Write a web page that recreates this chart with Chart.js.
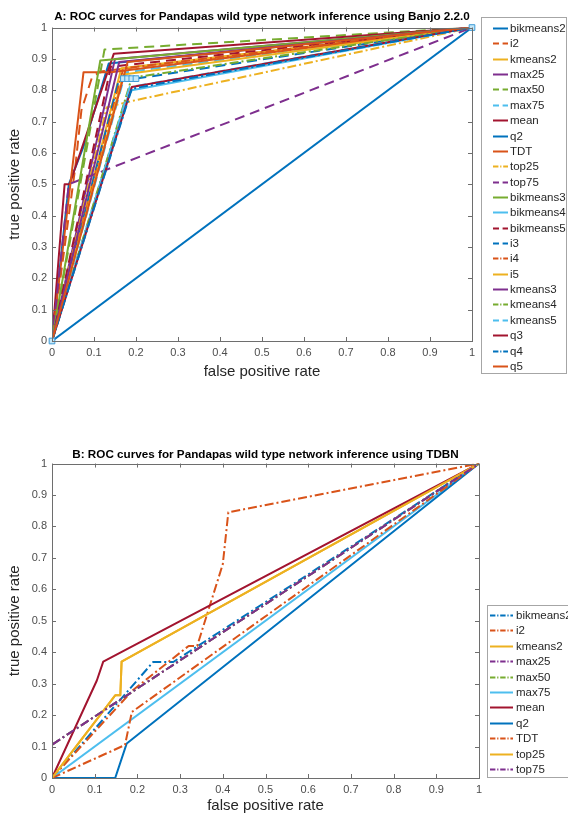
<!DOCTYPE html>
<html>
<head>
<meta charset="utf-8">
<script src="https://cdn.jsdelivr.net/npm/chart.js@4.4.0/dist/chart.umd.min.js"></script>
<style>
  html, body { margin: 0; padding: 0; background: #fff; overflow: hidden; }
  canvas { position: absolute; left: 0; }
  #rocA { top: 0; }
  #rocB { top: 428px; }
</style>
</head>
<body>
<canvas id="rocA" width="568" height="390"></canvas>
<canvas id="rocB" width="568" height="387"></canvas>
<script>
// tick labels, same on both axes of both panels
const tickLabels = ['0', '0.1', '0.2', '0.3', '0.4', '0.5', '0.6', '0.7', '0.8', '0.9', '1'];

// ---- Panel A: Banjo 2.2.0 ----
const namesA = ['bikmeans2', 'i2', 'kmeans2', 'max25', 'max50', 'max75', 'mean', 'q2', 'TDT', 'top25', 'top75',
  'bikmeans3', 'bikmeans4', 'bikmeans5', 'i3', 'i4', 'i5', 'kmeans3', 'kmeans4', 'kmeans5', 'q3', 'q4', 'q5'];
const fprA = [
  [0, 0.04, 0.075, 0.135, 1],          // bikmeans2
  [0, 0.055, 0.07, 0.095, 0.115, 1],   // i2
  [0, 0.165, 1],                       // kmeans2
  [0, 0.15, 1],                        // max25
  [0, 0.125, 1],                       // max50
  [0, 0.175, 1],                       // max75
  [0, 0.03, 0.042, 0.147, 1],          // mean
  [0, 1],                              // q2
  [0, 0.075, 0.14, 1],                 // TDT
  [0, 0.13, 0.178, 1],                 // top25
  [0, 0.04, 1],                        // top75
  [0, 0.115, 1],                       // bikmeans3
  [0, 0.172, 0.19, 1],                 // bikmeans4
  [0, 0.14, 1],                        // bikmeans5
  [0, 0.16, 0.2, 1],                   // i3
  [0, 0.17, 1],                        // i4
  [0, 0.17, 1],                        // i5
  [0, 0.16, 1],                        // kmeans3
  [0, 0.19, 1],                        // kmeans4
  [0, 0.185, 1],                       // kmeans5
  [0, 0.19, 1],                        // q3
  [0, 0.19, 1],                        // q4
  [0, 0.18, 1]                         // q5
];
const tprA = [
  [0, 0.5, 0.62, 0.885, 1],
  [0, 0.55, 0.736, 0.84, 0.86, 1],
  [0, 0.87, 1],
  [0, 0.9, 1],
  [0, 0.93, 1],
  [0, 0.857, 1],
  [0, 0.5, 0.5, 0.916, 1],
  [0, 1],
  [0, 0.857, 0.857, 1],
  [0, 0.745, 0.762, 1],
  [0, 0.5, 1],
  [0, 0.895, 1],
  [0, 0.755, 0.8, 1],
  [0, 0.875, 1],
  [0, 0.837, 0.837, 1],
  [0, 0.87, 1],
  [0, 0.85, 1],
  [0, 0.89, 1],
  [0, 0.84, 1],
  [0, 0.81, 1],
  [0, 0.81, 1],
  [0, 0.805, 1],
  [0, 0.89, 1]
];
// square markers drawn on top (not in the legend)
const markerFpr = [0, 0.17, 0.18, 0.19, 0.2, 1];
const markerTpr = [0, 0.837, 0.837, 0.837, 0.837, 1];

// ---- Panel B: TDBN ----
const namesB = ['bikmeans2', 'i2', 'kmeans2', 'max25', 'max50', 'max75', 'mean', 'q2', 'TDT', 'top25', 'top75'];
const fprB = [
  [0, 0.237, 0.284, 1],
  [0, 0.19, 0.32, 0.34, 0.4, 0.413, 1],
  [0, 0.148, 0.16, 0.163, 1],
  [0, 0, 1],
  [0, 0, 1],
  [0, 1],
  [0, 0.105, 0.12, 1],
  [0, 0.148, 0.175, 1],
  [0, 0.171, 0.187, 1],
  [0, 0.148, 0.16, 0.163, 1],
  [0, 0, 1]
];
const tprB = [
  [0, 0.369, 0.369, 1],
  [0, 0.28, 0.42, 0.42, 0.68, 0.845, 1],
  [0, 0.263, 0.263, 0.37, 1],
  [0, 0.106, 1],
  [0, 0.106, 1],
  [0, 1],
  [0, 0.31, 0.37, 1],
  [0, 0, 0.11, 1],
  [0, 0.105, 0.21, 1],
  [0, 0.263, 0.263, 0.37, 1],
  [0, 0.106, 1]
];

// MATLAB default colour order
const matlab = {
  blue: '#0072BD', orange: '#D95319', yellow: '#EDB120', purple: '#7E2F8E',
  green: '#77AC30', cyan: '#4DBEEE', red: '#A2142F'
};
const dashes = { '-': [], '--': [10, 6], '-.': [9, 3, 2, 3] };

const styleA = [
  ['blue', '-'], ['orange', '--'], ['yellow', '-'], ['purple', '-'], ['green', '--'], ['cyan', '--'],
  ['red', '-'], ['blue', '-'], ['orange', '-'], ['yellow', '-.'], ['purple', '--'], ['green', '-'],
  ['cyan', '-'], ['red', '--'], ['blue', '--'], ['orange', '-.'], ['yellow', '-'], ['purple', '-'],
  ['green', '-.'], ['cyan', '--'], ['red', '-'], ['blue', '-.'], ['orange', '-']
];
const styleB = [
  ['blue', '-.'], ['orange', '-.'], ['yellow', '-'], ['purple', '-.'], ['green', '-.'], ['cyan', '-'],
  ['red', '-'], ['blue', '-'], ['orange', '-.'], ['yellow', '-'], ['purple', '-.']
];

const FONT = '"Liberation Sans", Arial, Helvetica, sans-serif';

function buildSets(names, fpr, tpr, styles) {
  const n = names.length;
  return names.map((name, i) => ({
    label: name,
    data: fpr[i].map((x, j) => ({ x: x, y: tpr[i][j] })),
    borderColor: matlab[styles[i][0]],
    backgroundColor: matlab[styles[i][0]],
    borderDash: dashes[styles[i][1]],
    legendDash: dashes[styles[i][1]].map(v => v * 0.6),
    borderWidth: 2,
    borderJoinStyle: 'round',
    showLine: true,
    pointRadius: 0,
    order: n - i + 1   // later series drawn on top, as in MATLAB
  }));
}

// box around the axes plus inward tick marks on all four sides
const matlabBox = {
  id: 'matlabBox',
  afterDraw(chart) {
    const { ctx, chartArea: a, scales: { x, y } } = chart;
    ctx.save();
    ctx.strokeStyle = '#6e6e6e';
    ctx.lineWidth = 1;
    ctx.strokeRect(Math.round(a.left) + 0.5, Math.round(a.top) + 0.5,
      Math.round(a.width), Math.round(a.height));
    ctx.beginPath();
    x.ticks.forEach(t => {
      const px = Math.round(x.getPixelForValue(t.value)) + 0.5;
      ctx.moveTo(px, a.bottom); ctx.lineTo(px, a.bottom - 4);
      ctx.moveTo(px, a.top); ctx.lineTo(px, a.top + 4);
    });
    y.ticks.forEach(t => {
      const py = Math.round(y.getPixelForValue(t.value)) + 0.5;
      ctx.moveTo(a.left, py); ctx.lineTo(a.left + 4, py);
      ctx.moveTo(a.right, py); ctx.lineTo(a.right - 4, py);
    });
    ctx.stroke();
    ctx.restore();
  }
};

// MATLAB style legend box with line samples
const boxLegend = {
  id: 'boxLegend',
  afterDraw(chart, args, o) {
    const { ctx } = chart;
    const sets = chart.data.datasets.filter(d => !d.noLegend);
    ctx.save();
    ctx.fillStyle = '#fff';
    ctx.fillRect(o.left, o.top, o.width, o.height);
    ctx.strokeStyle = '#a6a6a6';
    ctx.lineWidth = 1;
    ctx.strokeRect(o.left + 0.5, o.top + 0.5, o.width, o.height);
    ctx.font = o.fontSize + 'px ' + FONT;
    ctx.textBaseline = 'middle';
    sets.forEach((d, i) => {
      const yy = Math.round(o.firstRow + i * o.rowHeight) + 0.5;
      ctx.strokeStyle = d.borderColor;
      ctx.lineWidth = 2;
      ctx.setLineDash(d.legendDash || []);
      ctx.beginPath();
      ctx.moveTo(o.lineX, yy);
      ctx.lineTo(o.lineX + o.lineLength, yy);
      ctx.stroke();
      ctx.setLineDash([]);
      ctx.fillStyle = '#262626';
      ctx.fillText(d.label, o.textX, yy);
    });
    ctx.restore();
  }
};

function rocOptions(cfg) {
  const axis = (title, fixSize) => ({
    type: 'linear',
    min: 0,
    max: 1,
    grid: { display: false, drawTicks: false },
    border: { display: false },
    ticks: {
      stepSize: 0.1,
      autoSkip: false,
      maxRotation: 0,
      padding: 5,
      color: '#4d4d4d',
      font: { family: FONT, size: 11 },
      callback: (v, i) => tickLabels[i]
    },
    title: {
      display: true,
      text: title,
      color: '#262626',
      font: { family: FONT, size: 15 },
      padding: cfg.titlePad[title]
    },
    afterFit: fixSize
  });
  return {
    responsive: false,
    animation: false,
    layout: { padding: { left: 0, right: cfg.rightPad, top: 0, bottom: 0 } },
    scales: {
      x: axis('false positive rate', s => { s.height = cfg.xHeight; }),
      y: axis('true positive rate', s => { s.width = 52; })
    },
    plugins: {
      legend: { display: false },
      tooltip: { enabled: false },
      title: {
        display: true,
        fullSize: false,
        text: cfg.title,
        color: '#000',
        font: { family: FONT, size: 11.7, weight: 'bold' },
        padding: cfg.headPad
      },
      boxLegend: cfg.legend
    }
  };
}

const setsA = buildSets(namesA, fprA, tprA, styleA);
setsA.push({
  label: 'markers',
  noLegend: true,
  data: markerFpr.map((x, j) => ({ x: x, y: markerTpr[j] })),
  showLine: false,
  pointStyle: 'rect',
  pointRadius: 4,
  pointBorderWidth: 1,
  pointBorderColor: '#3d9ad6',
  pointBackgroundColor: '#c4e7f8',
  clip: false,
  order: 0
});

new Chart(document.getElementById('rocA'), {
  type: 'scatter',
  data: { datasets: setsA },
  options: rocOptions({
    title: 'A: ROC curves for Pandapas wild type network inference using Banjo 2.2.0',
    headPad: { top: 9.5, bottom: 4 },
    rightPad: 96,
    xHeight: 49,
    titlePad: { 'false positive rate': { top: 0, bottom: 9 }, 'true positive rate': { top: 5.5, bottom: 0 } },
    legend: { left: 481, top: 17, width: 85, height: 356, firstRow: 28, rowHeight: 15.36,
      lineX: 493, lineLength: 15, textX: 510, fontSize: 11.5 }
  }),
  plugins: [matlabBox, boxLegend]
});

new Chart(document.getElementById('rocB'), {
  type: 'scatter',
  data: { datasets: buildSets(namesB, fprB, tprB, styleB) },
  options: rocOptions({
    title: 'B: ROC curves for Pandapas wild type network inference using TDBN',
    headPad: { top: 19.5, bottom: 2 },
    rightPad: 89,
    xHeight: 37,
    titlePad: { 'false positive rate': { top: 0, bottom: 0 }, 'true positive rate': { top: 5.5, bottom: 0 } },
    legend: { left: 487, top: 177, width: 90, height: 172, firstRow: 187, rowHeight: 15.4,
      lineX: 490, lineLength: 23, textX: 516, fontSize: 11.5 }
  }),
  plugins: [matlabBox, boxLegend]
});
</script>
</body>
</html>
